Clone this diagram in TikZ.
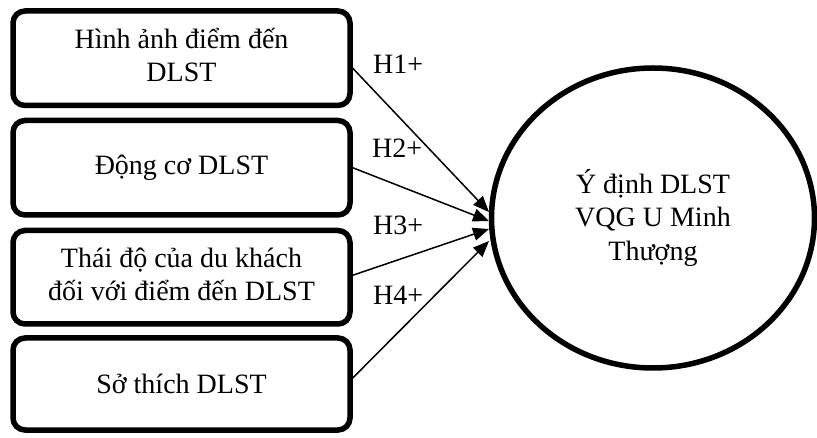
\documentclass[tikz,border=0pt]{standalone}
\usepackage{fontspec}
\setmainfont{Liberation Serif}
\usetikzlibrary{shapes.geometric,arrows.meta}
\tikzset{
  varbox/.style={draw, line width=5.5pt, rounded corners=12pt, minimum width=337pt, inner sep=0pt, align=center, font=\fontsize{28}{33.5}\selectfont},
  outcome/.style={draw, ellipse, line width=5.5pt, minimum width=323pt, minimum height=300pt, inner sep=0pt, align=center, font=\fontsize{28}{33.5}\selectfont},
  hyp/.style={anchor=base west, inner sep=0pt, font=\fontsize{28}{33.5}\selectfont},
  arr/.style={line width=1.5pt, -{Triangle[length=16pt,width=13pt]}}
}
\begin{document}
\begin{tikzpicture}[x=1pt,y=-1pt]
\useasboundingbox (0,0) rectangle (817,438);
\node[varbox, minimum height=94.5pt] (b1) at (181.5,58.25) {\raisebox{-2pt}{\begin{tabular}{@{}c@{}}Hình ảnh điểm đến\\DLST\end{tabular}}};
\node[varbox, minimum height=94.5pt] (b2) at (181.5,167.75) {\raisebox{-2pt}{Động cơ DLST}};
\node[varbox, minimum height=93.5pt] (b3) at (181.5,277.25) {\raisebox{-2pt}{\begin{tabular}{@{}c@{}}Thái độ của du khách\\đối với điểm đến DLST\end{tabular}}};
\node[varbox, minimum height=92pt] (b4) at (181.5,384) {\raisebox{-3pt}{Sở thích DLST}};
\node[outcome] (y) at (653,218) {Ý định DLST\\VQG U Minh\\Thượng};
\coordinate (t1) at (489,212);
\coordinate (t2) at (489,221);
\coordinate (t3) at (489,229);
\coordinate (t4) at (489,241);
\draw[arr] ([yshift=-10pt]b1.east) -- (t1);
\draw[arr] (b2.east) -- (t2);
\draw[arr] ([yshift=2pt]b3.east) -- (t3);
\draw[arr] ([yshift=6pt]b4.east) -- (t4);
\node[hyp] (h1) at (373,74) {H1+};
\node[hyp] (h2) at (372,158) {H2+};
\node[hyp] (h3) at (373,235) {H3+};
\node[hyp] (h4) at (373,305) {H4+};
\end{tikzpicture}
\end{document}
